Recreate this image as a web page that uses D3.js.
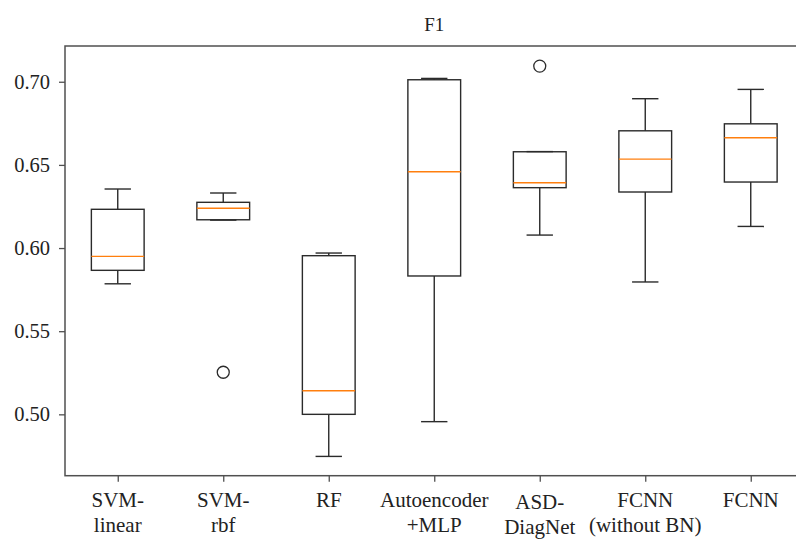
<!DOCTYPE html>
<html>
<head>
<meta charset="utf-8">
<script src="https://cdn.jsdelivr.net/npm/d3@7"></script>
<style>
  html, body { margin: 0; padding: 0; background: #fff; }
  svg { display: block; }
  text { font-family: "Liberation Serif", "DejaVu Serif", serif; fill: #222; }
</style>
</head>
<body>
<script>
// Box-plot statistics per model (F1 score)
const categories = ["SVM-\nlinear", "SVM-\nrbf", "RF", "Autoencoder\n+MLP", "ASD-\nDiagNet", "FCNN\n(without BN)", "FCNN"];
const whiskerLow  = [0.5785, 0.6168, 0.4747, 0.4956, 0.6078, 0.5796, 0.6130];
const q1          = [0.5866, 0.6170, 0.5000, 0.5832, 0.6363, 0.6337, 0.6397];
const median      = [0.5950, 0.6239, 0.5142, 0.6459, 0.6393, 0.6535, 0.6663];
const q3          = [0.6233, 0.6275, 0.5954, 0.7012, 0.6579, 0.6705, 0.6747];
const whiskerHigh = [0.6355, 0.6331, 0.5970, 0.7020, 0.6580, 0.6898, 0.6954];
const outliers    = [[], [0.5253], [], [], [0.7094], [], []];
const yTicks = [0.50, 0.55, 0.60, 0.65, 0.70];
const title = "F1";

const W = 796, H = 539;
const svg = d3.select("body").append("svg").attr("width", W).attr("height", H);

const x = d3.scaleLinear().domain([0.5, 7.5]).range([65, 803.5]);
const y = d3.scaleLinear().domain([0.4631, 0.7215]).range([475.7, 46]);
const step = x(2) - x(1);
const boxW = step * 0.5, capW = step * 0.25;

const boxColor = "#2b2b2b", spineColor = "#505050", medColor = "#ff7f0e";

// spines
const [x0, x1] = x.range(), [yb, yt] = y.range();
svg.append("rect").attr("x", x0).attr("y", yt).attr("width", x1 - x0).attr("height", yb - yt)
  .attr("fill", "none").attr("stroke", spineColor).attr("stroke-width", 1.5);

// y axis
const yAxis = d3.axisLeft(y).tickValues(yTicks).tickFormat(d3.format(".2f")).tickSize(6).tickPadding(9);
const gy = svg.append("g").attr("transform", `translate(${x0},0)`).call(yAxis);
gy.select(".domain").remove();
gy.selectAll(".tick line").attr("stroke", spineColor).attr("stroke-width", 1.3);
gy.selectAll(".tick text").attr("font-size", 20.5).attr("font-family", "Liberation Serif").attr("fill", "#222");

// x axis
const xAxis = d3.axisBottom(x).tickValues(d3.range(1, categories.length + 1)).tickFormat("").tickSize(6);
const gx = svg.append("g").attr("transform", `translate(0,${yb})`).call(xAxis);
gx.select(".domain").remove();
gx.selectAll(".tick line").attr("stroke", spineColor).attr("stroke-width", 1.3);

// multi-line category labels
const labelShift = { "ASD-\nDiagNet": 2 };
categories.forEach((c, i) => {
  const t = svg.append("text").attr("x", x(i + 1)).attr("y", 507 + (labelShift[c] || 0))
    .attr("text-anchor", "middle").attr("font-size", 21);
  c.split("\n").forEach((line, j) => {
    t.append("tspan").attr("x", x(i + 1)).attr("dy", j === 0 ? 0 : 25).text(line);
  });
});

// title
svg.append("text").attr("x", (x0 + x1) / 2).attr("y", 31).attr("text-anchor", "middle")
  .attr("font-size", 19).text(title);

// boxes
const g = svg.append("g");
categories.forEach((c, i) => {
  const cx = x(i + 1);
  const lw = 1.4;
  // whiskers
  g.append("line").attr("x1", cx).attr("x2", cx).attr("y1", y(q1[i])).attr("y2", y(whiskerLow[i]))
    .attr("stroke", boxColor).attr("stroke-width", lw);
  g.append("line").attr("x1", cx).attr("x2", cx).attr("y1", y(q3[i])).attr("y2", y(whiskerHigh[i]))
    .attr("stroke", boxColor).attr("stroke-width", lw);
  // caps
  [whiskerLow[i], whiskerHigh[i]].forEach(v => {
    g.append("line").attr("x1", cx - capW / 2).attr("x2", cx + capW / 2).attr("y1", y(v)).attr("y2", y(v))
      .attr("stroke", boxColor).attr("stroke-width", lw);
  });
  // box
  g.append("rect").attr("x", cx - boxW / 2).attr("y", y(q3[i])).attr("width", boxW)
    .attr("height", y(q1[i]) - y(q3[i])).attr("fill", "none")
    .attr("stroke", boxColor).attr("stroke-width", lw);
  // median
  g.append("line").attr("x1", cx - boxW / 2).attr("x2", cx + boxW / 2)
    .attr("y1", y(median[i])).attr("y2", y(median[i]))
    .attr("stroke", medColor).attr("stroke-width", 1.4);
  // fliers
  outliers[i].forEach(v => {
    g.append("circle").attr("cx", cx).attr("cy", y(v)).attr("r", 6)
      .attr("fill", "none").attr("stroke", boxColor).attr("stroke-width", 1.3);
  });
});
</script>
</body>
</html>
